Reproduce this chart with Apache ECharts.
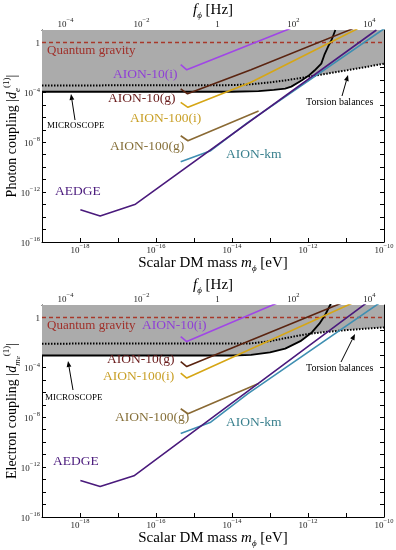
<!DOCTYPE html>
<html><head><meta charset="utf-8">
<script src="https://cdn.jsdelivr.net/npm/echarts@6/dist/echarts.min.js"></script>
<style>html,body{margin:0;padding:0;background:#fff}#c{width:396px;height:550px}</style>
</head><body><div id="c"></div>
<script>
// ---- DATA (log10 values) ----
// x: log10 of scalar DM mass [eV]; y: log10 of coupling
var massRange = [-19, -10];
var couplingRange = [-16, 1];
var massTickLabels = [-18, -16, -14, -12, -10];
var freqTickLabels = [-4, -2, 0, 2, 4];
var couplingTickLabels = [-16, -12, -8, -4, 0];
var quantumGravityLevel = 0;

// Photon coupling panel
var torsionPhotonX = [-19, -14, -13.5, -13, -12.5, -12, -11.5, -11, -10.5, -10];
var torsionPhotonY = [-3.45, -3.42, -3.35, -3.2, -3.0, -2.75, -2.5, -2.25, -1.98, -1.7];
var microPhotonX = [-19, -14, -13.3, -12.9, -12.6, -12.44, -12.17, -11.96, -11.83, -11.65, -11.57, -11.45, -11.38, -11.28];
var microPhotonY = [-3.95, -3.95, -3.9, -3.8, -3.7, -3.54, -3.05, -2.6, -2.25, -1.7, -1.0, -0.2, 0.2, 1.0];
var aion10iPhotonX = [-15.35, -15.19, -12.4];
var aion10iPhotonY = [-1.77, -2.19, 1.2];
var aion10gPhotonX = [-15.35, -15.17, -13.5, -10.8];
var aion10gPhotonY = [-3.72, -4.12, -2.19, 1.13];
var aion100iPhotonX = [-15.35, -15.16, -13.5, -10.7];
var aion100iPhotonY = [-4.8, -5.2, -3.19, 1.1];
var aion100gPhotonX = [-15.35, -15.16, -13.3];
var aion100gPhotonY = [-7.48, -7.88, -5.5];
var aionKmPhotonX = [-15.35, -14.56, -13.58, -10.0];
var aionKmPhotonY = [-9.57, -8.68, -6.41, 1.1];
var aedgePhotonX = [-17.99, -17.47, -16.54, -10.2];
var aedgePhotonY = [-13.42, -13.91, -12.97, 1.0];

// Electron coupling panel
var torsionElectronX = [-19, -13.5, -13, -12.5, -12, -11.5, -11, -10.5, -10];
var torsionElectronY = [-2.1, -2.08, -1.9, -1.6, -1.32, -1.15, -1.02, -0.9, -0.8];
var microElectronX = [-19, -14, -13.5, -13, -12.6, -12.2, -11.9, -11.7, -11.55, -11.4];
var microElectronY = [-3.05, -3.05, -3.0, -2.8, -2.5, -1.9, -1.2, -0.5, 0.2, 1.1];
var aion10iElectronX = [-15.35, -15.19, -12.7];
var aion10iElectronY = [-1.53, -1.93, 1.3];
var aion10gElectronX = [-15.35, -15.19, -11.0];
var aion10gElectronY = [-3.54, -3.94, 1.3];
var aion100iElectronX = [-15.35, -15.19, -10.8];
var aion100iElectronY = [-4.46, -4.86, 1.2];
var aion100gElectronX = [-15.35, -15.16, -13.3];
var aion100gElectronY = [-7.32, -7.72, -5.3];
var aionKmElectronX = [-15.35, -14.56, -13.58, -10.1];
var aionKmElectronY = [-9.3, -8.4, -6.1, 1.2];
var aedgeElectronX = [-17.99, -17.47, -16.58, -10.4];
var aedgeElectronY = [-13.08, -13.56, -12.70, 1.3];

// ---- helpers ----
var LOG_EV_TO_HZ = Math.log10(2.418e14);
function pts(xs, ys) { return xs.map(function (x, i) { return [x, ys[i]]; }); }
var SERIF = '"Liberation Serif", "DejaVu Serif", serif';
var C = {
  a10i: '#a046e6', a10iT: '#8f3fd6',
  a10g: '#5a2410', a10gT: '#6a1c1c',
  a100i: '#d6a615', a100iT: '#c9a028',
  a100g: '#8a6a34', a100gT: '#86703a',
  km: '#3f8fb2', kmT: '#3a808e',
  aedge: '#4a1a7c', aedgeT: '#4a1a7c',
  qg: '#a8382a', qgT: '#a0302a',
  gray: '#ababab'
};
function powLabel(v) {
  if (v === 0) return '{b|1}';
  return '{b|10}{s|' + (v < 0 ? '\u2212' + (-v) : v) + '}';
}
var tickRich = {
  b: { fontSize: 9, fontFamily: SERIF, color: '#222', lineHeight: 12, verticalAlign: 'bottom' },
  s: { fontSize: 6.5, fontFamily: SERIF, color: '#222', lineHeight: 7, verticalAlign: 'top' }
};
var nameRich = {
  n: { fontSize: 15, fontFamily: SERIF, color: '#000', lineHeight: 20, verticalAlign: 'middle' },
  i: { fontSize: 15, fontFamily: SERIF, fontStyle: 'italic', color: '#000', lineHeight: 20, verticalAlign: 'middle' },
  sub: { fontSize: 9, fontFamily: SERIF, fontStyle: 'italic', color: '#000', lineHeight: 9, verticalAlign: 'bottom' },
  ss: { fontSize: 7, fontFamily: SERIF, fontStyle: 'italic', color: '#000', lineHeight: 6, verticalAlign: 'bottom' },
  sup: { fontSize: 9, fontFamily: SERIF, color: '#000', lineHeight: 9, verticalAlign: 'top' }
};
var yNameRich = JSON.parse(JSON.stringify(nameRich));
yNameRich.n.fontSize = 14; yNameRich.i.fontSize = 14;

var gridTops = [30, 305];
var grids = gridTops.map(function (t) { return { left: 42, top: t, width: 342, height: 212, containLabel: false, outerBoundsMode: 'none' }; });

var xAxes = [], yAxes = [];
[0, 1].forEach(function (g) {
  var common = { gridIndex: g, type: 'value', nameMoveOverlap: false,
    axisLine: { onZero: false, lineStyle: { color: '#000', width: 1 } },
    splitLine: { show: false }, axisTick: { inside: true, length: 4, lineStyle: { color: '#000' } } };
  xAxes.push(Object.assign({}, common, {
    position: 'bottom', min: massRange[0], max: massRange[1], interval: 1,
    axisLabel: { margin: 1, customValues: massTickLabels, formatter: powLabel, rich: tickRich },
    name: '{n|Scalar DM mass }{i|m}{sub|\u03d5}{n| [eV]}', nameLocation: 'middle', nameGap: 11,
    nameTextStyle: { rich: nameRich, verticalAlign: 'top' }
  }));
  xAxes.push(Object.assign({}, common, {
    position: 'top', min: massRange[0] + LOG_EV_TO_HZ, max: massRange[1] + LOG_EV_TO_HZ,
    axisTick: { inside: true, length: 4, lineStyle: { color: '#000' }, customValues: [-4, -3, -2, -1, 0, 1, 2, 3, 4] },
    axisLabel: { margin: 1, customValues: freqTickLabels, formatter: powLabel, rich: tickRich },
    name: '{i|f}{sub|\u03d5}{n| [Hz]}', nameLocation: 'middle', nameGap: 10,
    nameTextStyle: { rich: nameRich }
  }));
  yAxes.push(Object.assign({}, common, {
    position: 'left', min: couplingRange[0], max: couplingRange[1], interval: 1,
    axisLabel: { margin: 2, customValues: couplingTickLabels, formatter: powLabel, rich: tickRich },
    name: g === 0 ? '{n|Photon coupling |}{i|d}{sub|e}{sup|(1)}{n||}' : '{n|Electron coupling |}{i|d}{sub|m}{ss|e}{sup|(1)}{n||}',
    nameLocation: 'middle', nameRotate: 90, nameGap: 20,
    nameTextStyle: { rich: yNameRich }
  }));
  yAxes.push(Object.assign({}, common, {
    position: 'right', min: couplingRange[0], max: couplingRange[1], interval: 1,
    axisLabel: { show: false }
  }));
});

var series = [];
function addPanel(g, d) {
  var xi = g * 2, yi = g * 2;
  function fill(data) {
    series.push({ type: 'line', xAxisIndex: xi, yAxisIndex: yi, data: data, showSymbol: false, silent: true,
      lineStyle: { width: 0, opacity: 0 }, areaStyle: { color: C.gray, opacity: 1, origin: 'end' }, z: 1 });
  }
  function line(data, color, width, type, z) {
    series.push({ type: 'line', xAxisIndex: xi, yAxisIndex: yi, data: data, showSymbol: false, silent: true,
      lineStyle: { color: color, width: width, type: type || 'solid' }, z: z || 3 });
  }
  fill(d.torsion); fill(d.micro);
  line([[massRange[0], quantumGravityLevel], [massRange[1], quantumGravityLevel]], C.qg, 1.5, [4, 3], 2);
  line(d.torsion, '#000', 2, [1.5, 1.5], 3);
  line(d.micro, '#000', 1.8, 'solid', 3);
  line(d.a10i, C.a10i, 1.6);
  line(d.a10g, C.a10g, 1.6);
  line(d.a100i, C.a100i, 1.6);
  line(d.a100g, C.a100g, 1.6);
  line(d.km, C.km, 1.6);
  line(d.aedge, C.aedge, 1.6);
}
addPanel(0, {
  torsion: pts(torsionPhotonX, torsionPhotonY), micro: pts(microPhotonX, microPhotonY),
  a10i: pts(aion10iPhotonX, aion10iPhotonY), a10g: pts(aion10gPhotonX, aion10gPhotonY),
  a100i: pts(aion100iPhotonX, aion100iPhotonY), a100g: pts(aion100gPhotonX, aion100gPhotonY),
  km: pts(aionKmPhotonX, aionKmPhotonY), aedge: pts(aedgePhotonX, aedgePhotonY)
});
addPanel(1, {
  torsion: pts(torsionElectronX, torsionElectronY), micro: pts(microElectronX, microElectronY),
  a10i: pts(aion10iElectronX, aion10iElectronY), a10g: pts(aion10gElectronX, aion10gElectronY),
  a100i: pts(aion100iElectronX, aion100iElectronY), a100g: pts(aion100gElectronX, aion100gElectronY),
  km: pts(aionKmElectronX, aionKmElectronY), aedge: pts(aedgeElectronX, aedgeElectronY)
});

// ---- annotations ----
function txt(s, x, y, color, size) {
  return { type: 'text', left: x, top: y - size * 0.6, z: 100,
    style: { text: s, fill: color, font: size + 'px ' + SERIF } };
}
function arrow(x1, y1, x2, y2) {
  var a = Math.atan2(y2 - y1, x2 - x1), L = 6, W = 2.4;
  var bx = x2 - L * Math.cos(a), by = y2 - L * Math.sin(a);
  var px = -Math.sin(a) * W, py = Math.cos(a) * W;
  return [
    { type: 'line', z: 100, shape: { x1: x1, y1: y1, x2: bx, y2: by }, style: { stroke: '#000', lineWidth: 1 } },
    { type: 'polygon', z: 100, shape: { points: [[x2, y2], [bx + px, by + py], [bx - px, by - py]] }, style: { fill: '#000' } }
  ];
}
var graphics = [];
graphics.push(txt('Quantum gravity', 47, 52, C.qgT, 13));
graphics.push(txt('AION-10(i)', 113, 76, C.a10iT, 13.5));
graphics.push(txt('AION-10(g)', 108, 100, C.a10gT, 13.5));
graphics.push(txt('AION-100(i)', 130, 120, C.a100iT, 13.5));
graphics.push(txt('AION-100(g)', 110, 148, C.a100gT, 13.5));
graphics.push(txt('AION-km', 226, 156, C.kmT, 13.5));
graphics.push(txt('AEDGE', 55, 193, C.aedgeT, 13.5));
graphics.push(txt('MICROSCOPE', 47, 127, '#000', 9));
graphics.push(txt('Torsion balances', 306, 103, '#000', 10));
graphics = graphics.concat(arrow(75, 120, 71, 94), arrow(342, 96, 348, 75));

graphics.push(txt('Quantum gravity', 47, 327, C.qgT, 13));
graphics.push(txt('AION-10(i)', 142, 327, C.a10iT, 13.5));
graphics.push(txt('AION-10(g)', 107, 361, C.a10gT, 13.5));
graphics.push(txt('AION-100(i)', 103, 378, C.a100iT, 13.5));
graphics.push(txt('AION-100(g)', 115, 419, C.a100gT, 13.5));
graphics.push(txt('AION-km', 226, 424, C.kmT, 13.5));
graphics.push(txt('AEDGE', 53, 463, C.aedgeT, 13.5));
graphics.push(txt('MICROSCOPE', 45, 399, '#000', 9));
graphics.push(txt('Torsion balances', 306, 369, '#000', 10));
graphics = graphics.concat(arrow(73, 390, 68, 361), arrow(341, 362, 355, 334));

var chart = echarts.init(document.getElementById('c'), null, { renderer: 'canvas' });
chart.setOption({
  animation: false,
  backgroundColor: '#fff',
  grid: grids,
  xAxis: xAxes,
  yAxis: yAxes,
  series: series,
  graphic: graphics
});
</script></body></html>
